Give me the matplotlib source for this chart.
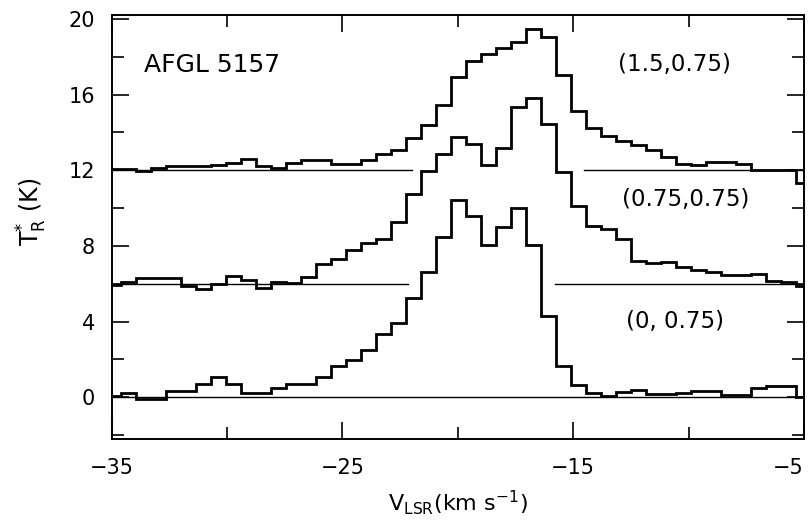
import numpy as np
import matplotlib
matplotlib.use('Agg')
import matplotlib.pyplot as plt

# channel grid (km/s)
v_start = -33.95
dv = 0.65
n_left = 2  # channels left of v_start

# spectra, one value per channel (K), offsets already included
t_0 = [0.05, 0.25, -0.1, -0.1, 0.35, 0.35, 0.7, 1.05, 0.7, 0.25,
       0.25, 0.5, 0.7, 0.7, 1.1, 1.65, 1.95, 2.5, 3.35, 3.95,
       5.25, 6.6, 8.46, 10.44, 9.56, 8.07, 8.98, 9.98, 8.07, 4.3,
       1.65, 0.65, 0.21, 0.07, 0.26, 0.39, 0.18, 0.18, 0.25, 0.33,
       0.33, 0.12, 0.12, 0.51, 0.58, 0.58, 0.0]
t_075 = [5.95, 6.09, 6.3, 6.3, 6.3, 5.88, 5.74, 6.0, 6.39, 6.18,
         5.79, 6.09, 6.04, 6.35, 7.05, 7.32, 7.8, 8.16, 8.37, 9.28,
         10.74, 11.96, 12.84, 13.77, 13.4, 12.28, 13.19, 15.35, 15.83, 14.42,
         11.88, 10.09, 9.04, 8.89, 8.37, 7.23, 7.09, 7.14, 6.88, 6.75,
         6.61, 6.47, 6.47, 6.53, 6.17, 6.09, 5.88]
t_15 = [12.05, 12.05, 11.95, 12.14, 12.2, 12.2, 12.2, 12.3, 12.4, 12.58,
        12.23, 12.12, 12.38, 12.55, 12.55, 12.35, 12.35, 12.55, 12.86, 13.05,
        13.68, 14.37, 15.42, 16.93, 17.75, 18.16, 18.46, 18.77, 19.47, 19.02,
        17.05, 15.12, 14.25, 13.81, 13.54, 13.33, 13.07, 12.7, 12.35, 12.28,
        12.44, 12.44, 12.32, 12.02, 12.02, 12.02, 11.35]

# baselines: level, list of (v_from, v_to)
base_levels = [0, 6, 12]
base_spans = [[(-35, -5)],
              [(-35, -22.14), (-15.81, -5)],
              [(-35, -21.97), (-14.55, -5)]]

labels = ['(0, 0.75)', '(0.75,0.75)', '(1.5,0.75)']
label_pos = [(-10.57, 4.0), (-10.13, 10.43), (-10.6, 17.6)]

x_major = [-35, -25, -15, -5]
x_minor = [-30, -20, -10]
y_major = [0, 4, 8, 12, 16, 20]
y_minor = [-2, 2, 6, 10, 14, 18]

plt.rcParams['font.family'] = 'DejaVu Sans'
plt.rcParams['mathtext.default'] = 'regular'

fig = plt.figure(figsize=(8.09, 5.27), dpi=100)
ax = fig.add_axes([0.1381, 0.167, 0.8557, 0.8045])

edges = v_start + dv * np.arange(-n_left, len(t_0) - n_left + 1)
for t in [t_0, t_075, t_15]:
    ax.stairs(t, edges, baseline=None, color='black', lw=2.0)

for lev, spans in zip(base_levels, base_spans):
    for a, b in spans:
        ax.plot([a, b], [lev, lev], color='black', lw=1.0)

for txt, (x, y) in zip(labels, label_pos):
    ax.text(x, y, txt, ha='center', va='center', fontsize=16.5)
ax.text(-30.66, 17.55, 'AFGL 5157', ha='center', va='center', fontsize=18)

ax.set_xlim(-35, -5)
ax.set_ylim(-2.2, 20.2)
ax.set_xticks(x_major)
ax.set_xticks(x_minor, minor=True)
ax.set_yticks(y_major)
ax.set_yticks(y_minor, minor=True)
ax.tick_params(which='both', direction='in', top=True, right=True, width=1.2)
ax.tick_params(which='major', length=12)
ax.tick_params(which='minor', length=8.5)
ax.tick_params(axis='x', which='major', pad=14, labelsize=15)
ax.tick_params(axis='y', which='major', pad=12, labelsize=15)
for s in ax.spines.values():
    s.set_linewidth(1.4)
# last x label sits at the figure edge
ax.get_xticklabels()[-1].set_ha('right')

ax.set_xlabel(r'V$_{\rm LSR}$(km s$^{-1}$)', fontsize=16)
ax.xaxis.set_label_coords(0.5, -0.115)
ax.xaxis.label.set_va('top')
ax.set_ylabel(r'T$_{\rm R}^{*}$ (K)', fontsize=17)
ax.yaxis.set_label_coords(-0.115, 0.535)
ax.yaxis.label.set_va('center')

fig.savefig('out.png', dpi=100)
